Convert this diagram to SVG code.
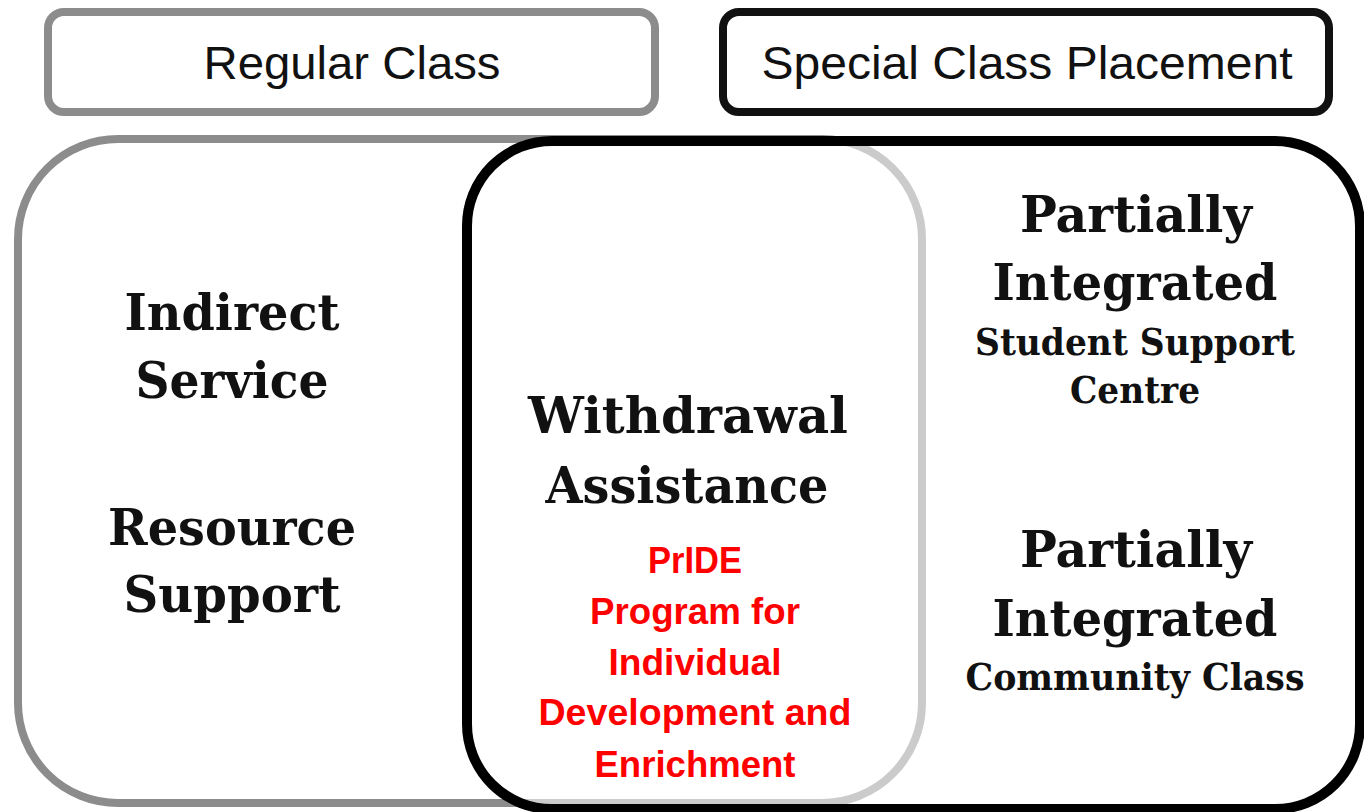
<svg xmlns="http://www.w3.org/2000/svg" width="1364" height="812" viewBox="0 0 1364 812">
<style>
.hdr{font-family:"Liberation Sans",Arial,sans-serif;font-size:46px;fill:#111;text-anchor:middle}
.big{font-family:"DejaVu Serif","Liberation Serif",serif;font-weight:bold;font-size:51px;fill:#111;text-anchor:middle}
.sm{font-family:"DejaVu Serif","Liberation Serif",serif;font-weight:bold;font-size:37px;fill:#111;text-anchor:middle}
.red{font-family:"Liberation Sans",Arial,sans-serif;font-weight:bold;font-size:37px;fill:#ff0000;text-anchor:middle}
</style>
<rect width="1364" height="812" fill="#fff"/>
<g id="regular-class-header">
<rect x="48" y="12" width="607" height="100" rx="16" fill="#fff" stroke="#8c8c8c" stroke-width="8"/>
<text class="hdr" x="352" y="79" textLength="297" lengthAdjust="spacingAndGlyphs">Regular Class</text>
</g>
<g id="special-class-header">
<rect x="723" y="12" width="606" height="100" rx="16" fill="#fff" stroke="#111" stroke-width="8"/>
<text class="hdr" x="1027" y="79" textLength="531" lengthAdjust="spacingAndGlyphs">Special Class Placement</text>
</g>
<g id="regular-class-region">
<rect x="18" y="139" width="904" height="664" rx="100" fill="#fff" stroke="#8c8c8c" stroke-width="8"/>
</g>
<g id="special-class-region">
<rect x="467" y="141" width="893" height="668" rx="85" fill="#fff" fill-opacity="0.55" stroke="#000" stroke-width="10"/>
</g>
<g id="regular-texts">
<text class="big" x="232" y="330" textLength="215" lengthAdjust="spacingAndGlyphs">Indirect</text>
<text class="big" x="232" y="398" textLength="193" lengthAdjust="spacingAndGlyphs">Service</text>
<text class="big" x="232" y="545" textLength="248" lengthAdjust="spacingAndGlyphs">Resource</text>
<text class="big" x="232" y="612" textLength="217" lengthAdjust="spacingAndGlyphs">Support</text>
</g>
<g id="withdrawal">
<text class="big" x="688" y="433" textLength="320" lengthAdjust="spacingAndGlyphs">Withdrawal</text>
<text class="big" x="687" y="503" textLength="283" lengthAdjust="spacingAndGlyphs">Assistance</text>
<text class="red" x="695" y="573" textLength="94" lengthAdjust="spacingAndGlyphs">PrIDE</text>
<text class="red" x="695" y="624" textLength="210" lengthAdjust="spacingAndGlyphs">Program for</text>
<text class="red" x="695" y="675" textLength="173" lengthAdjust="spacingAndGlyphs">Individual</text>
<text class="red" x="695" y="725" textLength="313" lengthAdjust="spacingAndGlyphs">Development and</text>
<text class="red" x="695" y="777" textLength="201" lengthAdjust="spacingAndGlyphs">Enrichment</text>
</g>
<g id="student-support-centre">
<text class="big" x="1136" y="232" textLength="232" lengthAdjust="spacingAndGlyphs">Partially</text>
<text class="big" x="1135" y="300" textLength="285" lengthAdjust="spacingAndGlyphs">Integrated</text>
<text class="sm" x="1135" y="355" textLength="320" lengthAdjust="spacingAndGlyphs">Student Support</text>
<text class="sm" x="1135" y="403" textLength="130" lengthAdjust="spacingAndGlyphs">Centre</text>
</g>
<g id="community-class">
<text class="big" x="1136" y="567" textLength="232" lengthAdjust="spacingAndGlyphs">Partially</text>
<text class="big" x="1135" y="636" textLength="285" lengthAdjust="spacingAndGlyphs">Integrated</text>
<text class="sm" x="1135" y="690" textLength="339" lengthAdjust="spacingAndGlyphs">Community Class</text>
</g>
<g id="connectors"></g>
</svg>
